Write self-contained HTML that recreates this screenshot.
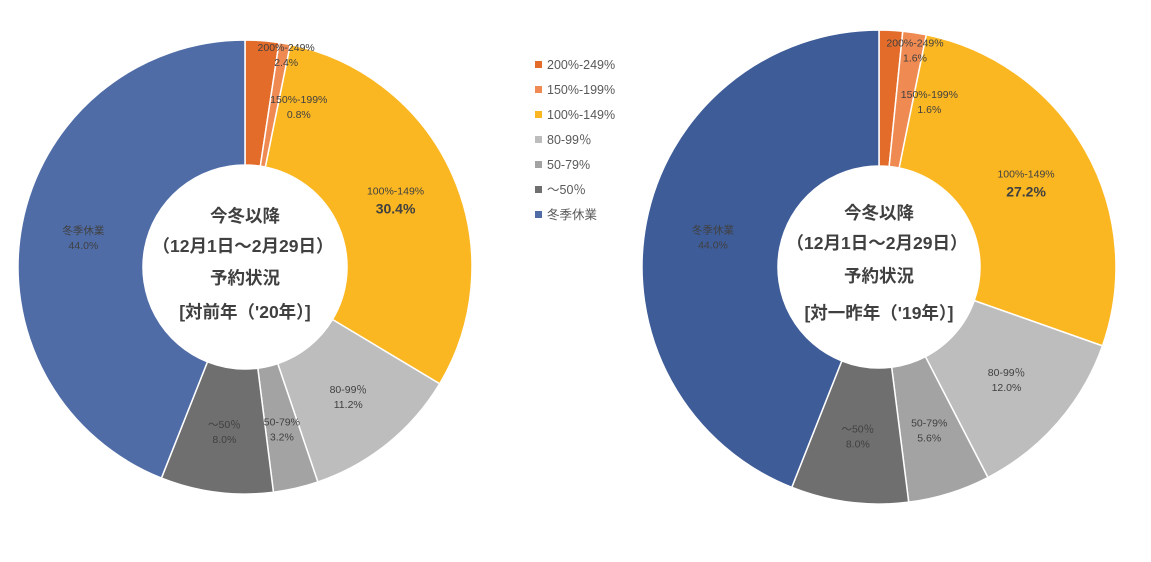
<!DOCTYPE html>
<html><head><meta charset="utf-8"><style>
body{margin:0;background:#fff;width:1151px;height:557px;overflow:hidden}
svg text{font-family:"Liberation Sans","Noto Sans CJK JP",sans-serif;fill:#404040}
</style></head><body>
<svg id="chart" width="1151" height="557" viewBox="0 0 1151 557" xmlns="http://www.w3.org/2000/svg"></svg>
<script>
const categories=["200%-249%","150%-199%","100%-149%","80-99％","50-79%","～50％","冬季休業"];
const colors=["#E46C2B","#EE8A52","#FBB722","#BDBDBD","#A3A3A3","#6F6F6F","#4F6CA7"];
const valuesLeft=[2.4,0.8,30.4,11.2,3.2,8.0,44.0];
const valuesRight=[1.6,1.6,27.2,12.0,5.6,8.0,44.0];
const centerLeft=["今冬以降","（12月1日～2月29日）","予約状況","[対前年（'20年）]"];
const centerRight=["今冬以降","（12月1日～2月29日）","予約状況","[対一昨年（'19年）]"];
const NS="http://www.w3.org/2000/svg";
const svg=document.getElementById('chart');
function mk(t,a){const e=document.createElementNS(NS,t);for(const k in a)e.setAttribute(k,a[k]);return e;}
function pt(cx,cy,r,f){const a=f*2*Math.PI;return [cx+r*Math.sin(a),cy-r*Math.cos(a)];}
function donut(cx,cy,ro,ri,vals,center,blue,name,lineYs){
  const g=mk('g',{});
  
  
  svg.appendChild(g);
  const lab=mk('g',{});
  
  
  const tot=vals.reduce((a,b)=>a+b,0);let acc=0;
  vals.forEach((v,i)=>{
    const f0=acc/tot,f1=(acc+v)/tot;acc+=v;
    const [x0,y0]=pt(cx,cy,ro,f0),[x1,y1]=pt(cx,cy,ro,f1);
    const [x2,y2]=pt(cx,cy,ri,f1),[x3,y3]=pt(cx,cy,ri,f0);
    const lg=(f1-f0)>0.5?1:0;
    const p=mk('path',{d:`M${x0},${y0}A${ro},${ro} 0 ${lg} 1 ${x1},${y1}L${x2},${y2}A${ri},${ri} 0 ${lg} 0 ${x3},${y3}Z`,fill:(i==6?blue:colors[i]),stroke:'#fff','stroke-width':1.5});
    
    
    g.appendChild(p);
    const fm=(f0+f1)/2;
    let lr=(ro+ri)/2+(i==0?50:0);let dx=(i<2)?25:0;
    const [lx,ly]=pt(cx,cy,lr,fm);
    const big=(i==2);
    const t1=mk('text',{x:lx+dx,y:ly-(big?6:2),'text-anchor':'middle','font-size':10.5});
    t1.textContent=categories[i];
    
    
    lab.appendChild(t1);
    const t2=mk('text',{x:lx+dx,y:ly+13,'text-anchor':'middle','font-size':big?14:10.5,'font-weight':big?'bold':'normal'});
    t2.textContent=v.toFixed(1)+'%';
    
    
    lab.appendChild(t2);
  });
  g.appendChild(lab);
  center.forEach((s,k)=>{
    const t=mk('text',{x:cx+(k==1?-2:0),y:lineYs[k],'text-anchor':'middle','font-size':17.5,'font-weight':'bold'});
    t.textContent=s;
    
    
    g.appendChild(t);
  });
}
donut(245,267,227,102,valuesLeft,centerLeft,"#4F6CA7","left-donut",[222,252,284,318]);
donut(879,267,237,101,valuesRight,centerRight,"#3E5C98","right-donut",[219,249,282,319]);
const lg=mk('g',{});


svg.appendChild(lg);
categories.forEach((c,i)=>{
  const y=65+i*25;
  const r=mk('rect',{x:535,y:y-4,width:7,height:7,fill:colors[i]});
  
  
  lg.appendChild(r);
  const t=mk('text',{x:547,y:y+4,'font-size':12.5});
  t.setAttribute('style','fill:#595959');
  t.textContent=c;
  
  
  lg.appendChild(t);
});
</script>
</body></html>
